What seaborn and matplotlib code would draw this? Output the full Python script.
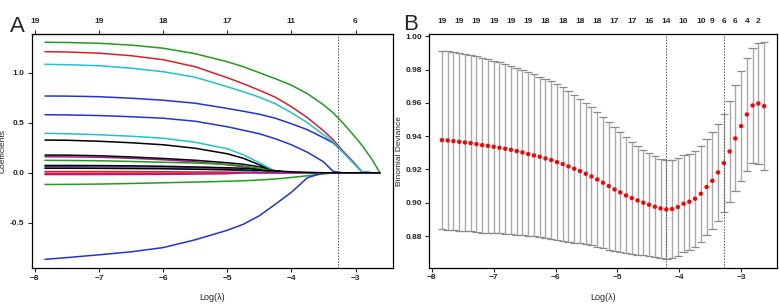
import numpy as np
import pandas as pd
import seaborn as sns
import matplotlib
matplotlib.use("Agg")
import matplotlib.pyplot as plt

sns.set_style("white")
plt.rcParams['font.family'] = ['Liberation Sans', 'DejaVu Sans']

# ---------------- A: lasso coefficient paths ----------------
knots = [-7.84, -7.5, -7.0, -6.5, -6.0, -5.5, -5.0, -4.75, -4.5, -4.25,
         -4.0, -3.75, -3.5, -3.35, -3.2, -3.05, -2.9, -2.75, -2.62]

b01 = [0.327, 0.325, 0.315, 0.30, 0.28, 0.245, 0.19, 0.145, 0.08, 0.01, 0, 0, 0, 0, 0, 0, 0, 0, 0]
b02 = [1.21, 1.207, 1.195, 1.17, 1.13, 1.06, 0.95, 0.89, 0.825, 0.755, 0.66, 0.55, 0.42, 0.33, 0.22, 0.12, 0.01, 0, 0]
b03 = [1.304, 1.302, 1.294, 1.276, 1.245, 1.19, 1.11, 1.06, 1.00, 0.94, 0.875, 0.79, 0.68, 0.60, 0.50, 0.39, 0.275, 0.14, 0]
b04 = [0.767, 0.766, 0.76, 0.745, 0.725, 0.695, 0.643, 0.615, 0.585, 0.545, 0.49, 0.43, 0.35, 0.30, 0.21, 0.11, 0.01, 0, 0]
b05 = [1.084, 1.08, 1.07, 1.045, 1.01, 0.955, 0.86, 0.81, 0.755, 0.69, 0.60, 0.50, 0.38, 0.31, 0.21, 0.11, 0.01, 0, 0]
b06 = [0.16, 0.159, 0.155, 0.145, 0.13, 0.11, 0.08, 0.06, 0.03, 0, 0, 0, 0, 0, 0, 0, 0, 0, 0]
b07 = [0.177, 0.176, 0.17, 0.158, 0.143, 0.125, 0.10, 0.085, 0.06, 0.02, 0, 0, 0, 0, 0, 0, 0, 0, 0]
b08 = [0.012, 0.012, 0.012, 0.011, 0.01, 0.008, 0.006, 0.005, 0.004, 0.003, 0.002, 0.001, 0, 0, 0, 0, 0, 0, 0]
b09 = [-0.117, -0.116, -0.113, -0.107, -0.10, -0.093, -0.085, -0.08, -0.072, -0.062, -0.047, -0.03, -0.012, -0.002, 0, 0, 0, 0, 0]
b10 = [0.58, 0.578, 0.572, 0.56, 0.545, 0.515, 0.46, 0.425, 0.39, 0.34, 0.28, 0.205, 0.11, 0.015, 0, 0, 0, 0, 0]
b11 = [0.394, 0.39, 0.38, 0.365, 0.345, 0.305, 0.24, 0.18, 0.10, 0.015, 0, 0, 0, 0, 0, 0, 0, 0, 0]
b12 = [0.06, 0.06, 0.058, 0.057, 0.055, 0.048, 0.04, 0.025, 0, 0, 0, 0, 0, 0, 0, 0, 0, 0, 0]
b13 = [0.073, 0.073, 0.072, 0.069, 0.065, 0.058, 0.05, 0.045, 0.036, 0.02, 0, 0, 0, 0, 0, 0, 0, 0, 0]
b14 = [-0.005, -0.005, -0.005, -0.005, -0.005, -0.004, -0.003, 0, 0, 0, 0, 0, 0, 0, 0, 0, 0, 0, 0]
b15 = [0.124, 0.123, 0.12, 0.113, 0.105, 0.097, 0.085, 0.07, 0.045, 0.01, 0, 0, 0, 0, 0, 0, 0, 0, 0]
b16 = [-0.865, -0.848, -0.82, -0.79, -0.748, -0.67, -0.575, -0.515, -0.43, -0.315, -0.195, -0.05, 0, 0, 0, 0, 0, 0, 0]
b17 = [0.05, 0.05, 0.048, 0.047, 0.045, 0.038, 0.03, 0.02, 0, 0, 0, 0, 0, 0, 0, 0, 0, 0, 0]
b18 = [-0.018, -0.018, -0.018, -0.017, -0.016, -0.013, -0.01, 0, 0, 0, 0, 0, 0, 0, 0, 0, 0, 0, 0]
b19 = [0.045, 0.045, 0.044, 0.042, 0.04, 0.035, 0.03, 0.027, 0.023, 0.018, 0.01, 0.004, 0, 0, 0, 0, 0, 0, 0]

paths = [b01, b02, b03, b04, b05, b06, b07, b08, b09, b10,
         b11, b12, b13, b14, b15, b16, b17, b18, b19]
r_cols = ['#000000', '#DA1F2C', '#1E9E1E', '#1F35D6', '#1FC2CE', '#B0178F']

top_a_at = [-8, -7, -6, -5, -4, -3]
top_a_df = [19, 19, 18, 17, 11, 6]
lambda_1se = -3.28
lambda_min = -4.21

# ---------------- B: cross-validation curve ----------------
log_lambda = [-7.837, -7.744, -7.651, -7.558, -7.465, -7.372, -7.279, -7.186, -7.093, -7.000,
              -6.907, -6.814, -6.721, -6.628, -6.535, -6.442, -6.349, -6.256, -6.163, -6.070,
              -5.977, -5.884, -5.791, -5.698, -5.605, -5.512, -5.419, -5.326, -5.233, -5.140,
              -5.047, -4.954, -4.861, -4.768, -4.675, -4.582, -4.489, -4.396, -4.303, -4.210,
              -4.117, -4.024, -3.931, -3.838, -3.745, -3.652, -3.559, -3.466, -3.373, -3.280,
              -3.187, -3.094, -3.001, -2.908, -2.815, -2.722, -2.629]
cvm = [0.9376, 0.9374, 0.9370, 0.9366, 0.9362, 0.9358, 0.9352, 0.9346, 0.9342, 0.9336,
       0.9330, 0.9324, 0.9318, 0.9310, 0.9302, 0.9292, 0.9284, 0.9276, 0.9266, 0.9256,
       0.9244, 0.9232, 0.9218, 0.9204, 0.9190, 0.9174, 0.9158, 0.9140, 0.9120, 0.9100,
       0.9080, 0.9062, 0.9044, 0.9028, 0.9014, 0.9000, 0.8988, 0.8976, 0.8966, 0.8960,
       0.8962, 0.8974, 0.8994, 0.9006, 0.9024, 0.9054, 0.9094, 0.9132, 0.9182, 0.9238,
       0.9308, 0.9386, 0.9460, 0.9530, 0.9584, 0.9596, 0.9580]
cvsd = [0.0536, 0.0535, 0.0534, 0.0533, 0.0531, 0.0529, 0.0527, 0.0525, 0.0522, 0.0518,
        0.0514, 0.0510, 0.0506, 0.0501, 0.0496, 0.0491, 0.0486, 0.0481, 0.0476, 0.0472,
        0.0468, 0.0460, 0.0452, 0.0443, 0.0434, 0.0424, 0.0414, 0.0404, 0.0394, 0.0383,
        0.0372, 0.0360, 0.0348, 0.0336, 0.0325, 0.0316, 0.0308, 0.0302, 0.0299, 0.0297,
        0.0294, 0.0292, 0.0290, 0.0289, 0.0289, 0.0289, 0.0290, 0.0291, 0.0292, 0.0294,
        0.0302, 0.0318, 0.0330, 0.0342, 0.0348, 0.0362, 0.0383]
top_b_idx = [0, 3, 6, 9, 12, 15, 18, 21, 24, 27, 30, 33, 36, 39, 42, 45, 47, 49, 51, 53, 55]
top_b_nz = [19, 19, 19, 19, 19, 19, 18, 18, 18, 18, 17, 17, 16, 14, 10, 10, 9, 6, 6, 4, 2]


def r_lim(vals):
    lo, hi = min(vals), max(vals)
    pad = (hi - lo) * 0.04
    return lo - pad, hi + pad


def style_box(ax):
    for s in ax.spines.values():
        s.set_visible(True)
        s.set_color('black')
        s.set_linewidth(0.9)
    ax.tick_params(axis='both', direction='out', length=3, width=0.8,
                   labelsize=6, pad=2, bottom=True, left=True)
    for lab in ax.get_xticklabels() + ax.get_yticklabels():
        lab.set_fontweight('bold')


fig = plt.figure(figsize=(7.79, 3.08), dpi=100)
ax_a = fig.add_axes([31.6 / 779, 1 - 268 / 308, (393.3 - 31.6) / 779, (268 - 33.6) / 308])
ax_b = fig.add_axes([429 / 779, 1 - 267.5 / 308, (777 - 429) / 779, (267.5 - 33.7) / 308])

# panel A
rows = []
for j, p in enumerate(paths):
    for x, y in zip(knots, p):
        rows.append({'loglam': x, 'coef': y, 'var': f'v{j + 1:02d}'})
df_a = pd.DataFrame(rows)
pal = {f'v{j + 1:02d}': r_cols[j % 6] for j in range(len(paths))}
sns.lineplot(data=df_a, x='loglam', y='coef', hue='var', palette=pal,
             linewidth=1.1, legend=False, ax=ax_a, sort=False)
ax_a.set_xlim(*r_lim(knots))
ax_a.set_ylim(*r_lim([v for p in paths for v in p]))
ax_a.axvline(lambda_1se, color='#555555', lw=0.7, ls=(0, (1.5, 1.5)))
ax_a.set_xticks([-8, -7, -6, -5, -4, -3])
ax_a.set_yticks([-0.5, 0.0, 0.5, 1.0])
ax_a.set_yticklabels(['-0.5', '0.0', '0.5', '1.0'])
ax_a.set_xlabel('Log(λ)', fontsize=6.5, labelpad=8)
ax_a.set_ylabel('Coefficients', fontsize=6)
ax_a.yaxis.set_label_coords(-0.068, 0.5)
style_box(ax_a)
top_a = ax_a.secondary_xaxis('top')
top_a.set_xticks(top_a_at)
top_a.set_xticklabels([str(v) for v in top_a_df], fontweight='bold')
top_a.tick_params(direction='out', length=3, width=0.8, labelsize=6, pad=3)
fig.text(10 / 779, 1 - 26 / 308, 'A', fontsize=16, va='center', ha='left')

# panel B
df_b = pd.DataFrame({'loglam': log_lambda, 'cvm': cvm, 'cvsd': cvsd})
df_b['up'] = df_b['cvm'] + df_b['cvsd']
df_b['lo'] = df_b['cvm'] - df_b['cvsd']
barw = 0.068
ax_b.vlines(df_b['loglam'], df_b['lo'], df_b['up'], color='#A9A9A9', lw=1.0)
ax_b.hlines(df_b['up'], df_b['loglam'] - barw, df_b['loglam'] + barw, color='#8A8A8A', lw=0.9)
ax_b.hlines(df_b['lo'], df_b['loglam'] - barw, df_b['loglam'] + barw, color='#8A8A8A', lw=0.9)
sns.scatterplot(data=df_b, x='loglam', y='cvm', color='#FF0000', s=10,
                edgecolor='none', ax=ax_b, zorder=3)
ax_b.set_xlim(*r_lim(log_lambda))
ax_b.set_ylim(*r_lim(list(df_b['lo']) + list(df_b['up'])))
ax_b.axvline(lambda_min, color='#555555', lw=0.7, ls=(0, (1.5, 1.5)))
ax_b.axvline(lambda_1se, color='#555555', lw=0.7, ls=(0, (1.5, 1.5)))
ax_b.set_xticks([-8, -7, -6, -5, -4, -3])
ax_b.set_yticks([0.88, 0.90, 0.92, 0.94, 0.96, 0.98, 1.00])
ax_b.set_yticklabels(['0.88', '0.90', '0.92', '0.94', '0.96', '0.98', '1.00'])
ax_b.set_xlabel('Log(λ)', fontsize=6.5, labelpad=8)
ax_b.set_ylabel('Binomial Deviance', fontsize=6)
ax_b.yaxis.set_label_coords(-0.075, 0.5)
style_box(ax_b)
top_b = ax_b.secondary_xaxis('top')
top_b.set_xticks([log_lambda[i] for i in top_b_idx])
top_b.set_xticklabels([str(v) for v in top_b_nz], fontweight='bold')
top_b.tick_params(length=0, labelsize=6, pad=6)
top_b.spines['top'].set_visible(False)
fig.text(403 / 779, 1 - 24 / 308, 'B', fontsize=16, va='center', ha='left')

fig.savefig('out.png', dpi=100)
